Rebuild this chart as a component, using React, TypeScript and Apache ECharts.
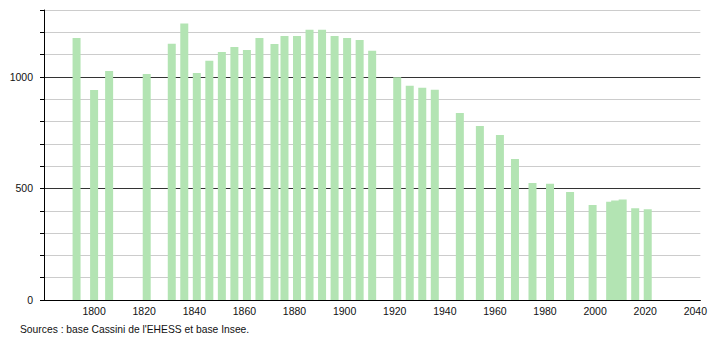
import React, { useEffect, useRef } from "react";
import * as echarts from "echarts";

const years = [1793, 1800, 1806, 1821, 1831, 1836, 1841, 1846, 1851, 1856, 1861, 1866, 1872, 1876, 1881, 1886, 1891, 1896, 1901, 1906, 1911, 1921, 1926, 1931, 1936, 1946, 1954, 1962, 1968, 1975, 1982, 1990, 1999, 2006, 2008, 2011, 2016, 2021];
const population = [1175, 941, 1027, 1013, 1149, 1240, 1018, 1072, 1112, 1134, 1121, 1175, 1148, 1184, 1184, 1211, 1211, 1184, 1175, 1166, 1117, 999, 960, 952, 942, 838, 780, 740, 632, 525, 521, 484, 426, 440, 446, 451, 411, 407];
const yLabelValues = [0, 500, 1000];
const sourceText = "Sources : base Cassini de l'EHESS et base Insee.";

export default function App() {
  const ref = useRef<HTMLDivElement>(null);
  useEffect(() => {
    if (!ref.current) return;
    const chart = echarts.init(ref.current, null, { renderer: "svg" });
    const font = "'Liberation Sans', Arial, Helvetica, sans-serif";
    chart.setOption({
      animation: false,
      grid: { left: 44, right: 9, top: 10, bottom: 40, containLabel: false },
      xAxis: {
        type: "value",
        min: 1780,
        max: 2042,
        interval: 20,
        axisLine: { show: true, lineStyle: { color: "#000", width: 1 } },
        axisTick: { show: false },
        splitLine: { show: false },
        axisLabel: {
          margin: 5,
          fontSize: 10.5,
          fontFamily: font,
          color: "#111",
          formatter: (v: number) => (v === 1780 ? "" : String(v)),
        },
      },
      yAxis: {
        type: "value",
        min: 0,
        max: 1300,
        interval: 100,
        axisLine: { show: true, lineStyle: { color: "#000", width: 1 } },
        axisTick: { show: true, length: 4, inside: false, lineStyle: { color: "#000" } },
        splitLine: {
          show: true,
          lineStyle: { color: ["#333", "#cccccc", "#cccccc", "#cccccc", "#cccccc"], width: 1 },
        },
        axisLabel: {
          margin: 11,
          fontSize: 10.5,
          fontFamily: font,
          color: "#111",
          formatter: (v: number) => (yLabelValues.includes(v) ? String(v) : ""),
        },
      },
      series: [
        {
          type: "bar",
          barWidth: 8,
          itemStyle: { color: "#b3e4b3" },
          data: years.map((y, i) => [y, population[i]]),
        },
      ],
      graphic: [
        {
          type: "text",
          left: 20,
          top: 324,
          style: { text: sourceText, fontSize: 10.3, fontFamily: font, fill: "#111" },
        },
      ],
    });
    return () => chart.dispose();
  }, []);
  return (
    <div
      ref={ref}
      style={{ position: "absolute", left: 0, top: 0, width: 710, height: 340, overflow: "hidden" }}
    />
  );
}
